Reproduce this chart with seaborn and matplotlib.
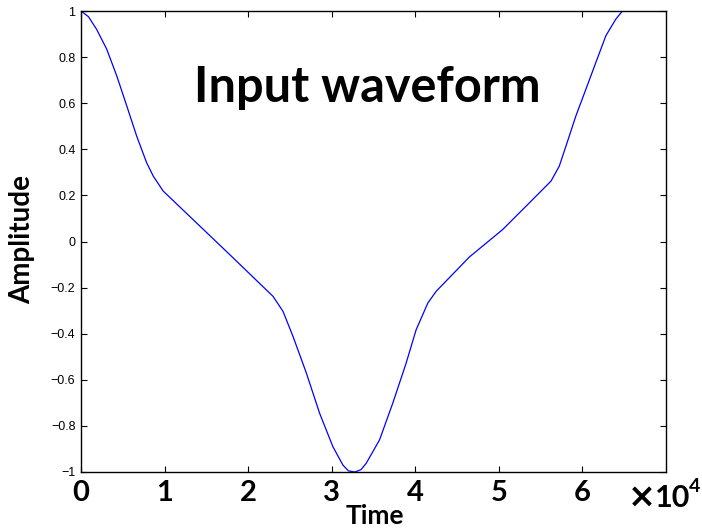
import numpy as np
import pandas as pd
import matplotlib
matplotlib.use("Agg")
import matplotlib.pyplot as plt
import seaborn as sns

# values
time = [0, 900, 1875, 3070, 4265, 5460, 6655, 7850, 8640, 9830, 14220, 17800,
        22980, 24170, 25370, 26970, 28550, 30140, 31340, 32000, 32768, 33500,
        34130, 35720, 37310, 38910, 40100, 41500, 42500, 46480, 50460, 53250,
        56240, 57230, 58030, 59220, 60420, 61610, 62810, 64000, 64790, 65190]
amplitude = [1.0, 0.975, 0.92, 0.835, 0.72, 0.59, 0.458, 0.342, 0.284, 0.219, 0.067, -0.057,
             -0.238, -0.303, -0.412, -0.571, -0.745, -0.89, -0.97, -0.995, -1.0, -0.99,
             -0.962, -0.861, -0.701, -0.527, -0.383, -0.267, -0.216, -0.067, 0.052, 0.153,
             0.262, 0.327, 0.414, 0.545, 0.661, 0.777, 0.893, 0.965, 1.0, 1.0]

x_ticks = [0, 10000, 20000, 30000, 40000, 50000, 60000]
x_tick_labels = ["0", "1", "2", "3", "4", "5", "6"]
y_ticks = [-1, -0.8, -0.6, -0.4, -0.2, 0, 0.2, 0.4, 0.6, 0.8, 1]
y_tick_labels = ["\u22121", "\u22120.8", "\u22120.6", "\u22120.4", "\u22120.2", "0",
                 "0.2", "0.4", "0.6", "0.8", "1"]

df = pd.DataFrame({"Time": time, "Amplitude": amplitude})

sns.set_style("ticks")
plt.rcParams["font.family"] = ["Lato", "DejaVu Sans"]
plt.rcParams["text.color"] = "black"
plt.rcParams["xtick.color"] = "black"
plt.rcParams["ytick.color"] = "black"
plt.rcParams["axes.labelcolor"] = "black"

fig = plt.figure(figsize=(7.02, 5.29), dpi=100)
ax = fig.add_axes([81 / 702, 1 - 472 / 529, (666 - 81) / 702, (472 - 11) / 529])

sns.lineplot(data=df, x="Time", y="Amplitude", color="#0000ff", linewidth=0.9, ax=ax)

ax.set_xlim(0, 70000)
ax.set_ylim(-1, 1)
ax.set_xticks(x_ticks)
ax.set_xticklabels(x_tick_labels, fontsize=21, fontweight="bold", color="black")
ax.set_yticks(y_ticks)
ax.set_yticklabels(y_tick_labels, fontsize=9, family="Liberation Sans", color="black")
ax.tick_params(direction="in", length=4, width=0.8, top=True, right=True, colors="black")
ax.tick_params(axis="x", pad=6)
ax.tick_params(axis="y", pad=4)
for s in ax.spines.values():
    s.set_color("black")
    s.set_linewidth(1.0)

ax.set_xlabel("")
ax.set_ylabel("")
# the reference crops this label at the bottom edge; keep it just inside
fig.text(375 / 702, 1 - 528 / 529, "Time", ha="center", va="bottom", fontsize=19,
         fontweight="bold", color="black")
fig.text(22 / 702, 1 - 240 / 529, "Amplitude", ha="center", va="center", rotation=90,
         fontsize=20, fontweight="bold", color="black")

ax.text(0.49, 0.833, "Input waveform", transform=ax.transAxes, ha="center", va="center",
        fontsize=35, fontweight="bold", color="black")

fig.text(628 / 702, 1 - 497 / 529, "\u00d7", ha="left", va="center", fontsize=24,
         fontweight="bold", color="black", family="DejaVu Sans")
fig.text(655 / 702, 1 - 498 / 529, "10", ha="left", va="center", fontsize=22,
         fontweight="bold", color="black")
fig.text(689 / 702, 1 - 487 / 529, "4", ha="left", va="center", fontsize=14,
         fontweight="bold", color="black")

fig.savefig("out.png", dpi=100)
